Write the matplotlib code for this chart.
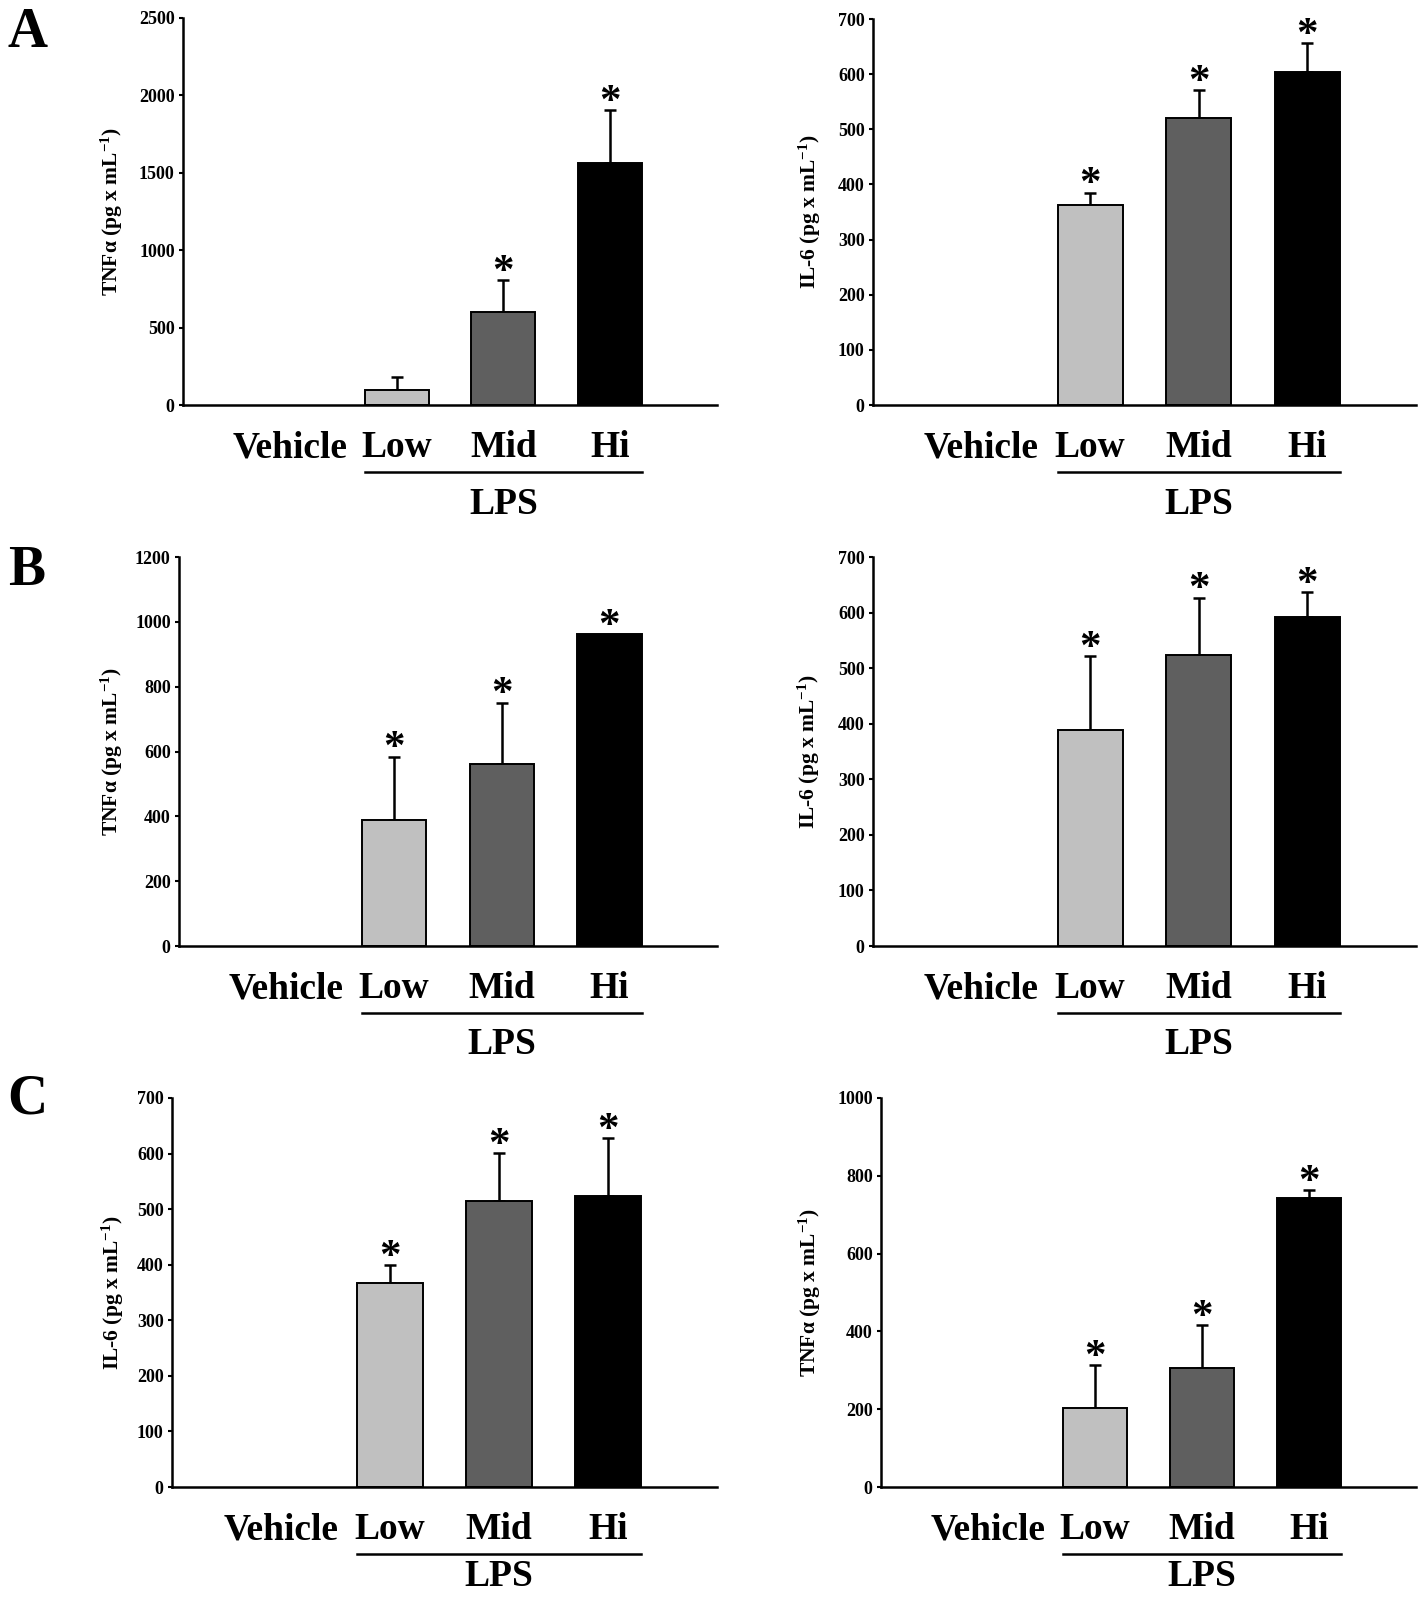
import numpy as np
import matplotlib.pyplot as plt

plt.rcParams['font.family'] = ['Liberation Serif', 'DejaVu Serif']
plt.rcParams['font.weight'] = 'bold'
plt.rcParams['mathtext.fontset'] = 'custom'
plt.rcParams['mathtext.rm'] = 'Liberation Serif:bold'
plt.rcParams['mathtext.bf'] = 'Liberation Serif:bold'
plt.rcParams['mathtext.default'] = 'rm'

groups = ['Vehicle', 'Low', 'Mid', 'Hi']
bar_colors = ['white', '#c0c0c0', '#5f5f5f', '#000000']

tnf_label = r'TNF$\alpha$ (pg x mL$^{-1}$)'
il6_label = r'IL-6 (pg x mL$^{-1}$)'

# panel A
a_tnf_mean = [0, 100, 600, 1565]
a_tnf_err = [0, 78, 205, 342]
a_tnf_star = [False, False, True, True]
a_il6_mean = [0, 362, 520, 603]
a_il6_err = [0, 23, 51, 53]
a_il6_star = [False, True, True, True]

# panel B
b_tnf_mean = [0, 390, 560, 961]
b_tnf_err = [0, 194, 191, 0]
b_tnf_star = [False, True, True, True]
b_il6_mean = [0, 389, 524, 592]
b_il6_err = [0, 132, 103, 45]
b_il6_star = [False, True, True, True]

# panel C
c_il6_mean = [0, 367, 515, 523]
c_il6_err = [0, 32, 86, 105]
c_il6_star = [False, True, True, True]
c_tnf_mean = [0, 203, 306, 743]
c_tnf_err = [0, 110, 110, 20]
c_tnf_star = [False, True, True, True]

W, H = 1418, 1600
fig = plt.figure(figsize=(W / 100, H / 100), dpi=100)


def add_axes(x0, x1, top, bottom):
    return fig.add_axes([x0 / W, 1 - bottom / H, (x1 - x0) / W, (bottom - top) / H])


def draw_panel(ax, mean, err, star, ymax, ystep, ylabel, label_x_px, lps_off=99):
    x = np.arange(len(groups))
    ax.bar(x[1:], mean[1:], width=0.6, color=bar_colors[1:],
           edgecolor='black', linewidth=1.4, zorder=2)
    for i in range(1, len(groups)):
        if err[i] > 0:
            ax.errorbar(x[i], mean[i], yerr=[[0], [err[i]]], fmt='none',
                        ecolor='black', elinewidth=1.8, capsize=4.5,
                        capthick=1.8, zorder=1, clip_on=False)
        if star[i]:
            ax.annotate('*', xy=(x[i], mean[i] + err[i]), xytext=(0, -2),
                        textcoords='offset points', ha='center', va='baseline',
                        fontsize=31, fontweight='bold', annotation_clip=False)

    ax.set_xlim(-1, 4)
    ax.set_ylim(0, ymax)
    ax.set_yticks(np.arange(0, ymax + 1, ystep))
    ax.spines['top'].set_visible(False)
    ax.spines['right'].set_visible(False)
    ax.spines['left'].set_linewidth(1.8)
    ax.spines['bottom'].set_linewidth(1.8)
    ax.tick_params(axis='y', direction='out', length=3, width=1.5,
                   labelsize=13, pad=3)
    ax.set_xticks(x)
    ax.set_xticklabels(groups, fontsize=27, fontweight='bold')
    ax.tick_params(axis='x', length=0, pad=18)
    for t in ax.get_yticklabels():
        t.set_fontweight('bold')

    ax.set_ylabel(ylabel, fontsize=15.5, fontweight='bold')
    bb = ax.get_position()
    ax.yaxis.set_label_coords((label_x_px / W - bb.x0) / bb.width, 0.5)

    # LPS bracket
    h_px = bb.height * H
    ax.plot([0.7, 3.3], [-67 / h_px, -67 / h_px], color='black', lw=1.8,
            transform=ax.get_xaxis_transform(), clip_on=False)
    ax.text(2.0, -lps_off / h_px, 'LPS', transform=ax.get_xaxis_transform(),
            ha='center', va='center', fontsize=27, fontweight='bold')


ax = add_axes(183, 717, 18, 405)
draw_panel(ax, a_tnf_mean, a_tnf_err, a_tnf_star, 2500, 500, tnf_label, 125)
ax = add_axes(873, 1416, 19, 405)
draw_panel(ax, a_il6_mean, a_il6_err, a_il6_star, 700, 100, il6_label, 823)

ax = add_axes(179, 717, 557, 946)
draw_panel(ax, b_tnf_mean, b_tnf_err, b_tnf_star, 1200, 200, tnf_label, 125)
ax = add_axes(873, 1416, 557, 946)
draw_panel(ax, b_il6_mean, b_il6_err, b_il6_star, 700, 100, il6_label, 822)

ax = add_axes(172, 717, 1098, 1487)
draw_panel(ax, c_il6_mean, c_il6_err, c_il6_star, 700, 100, il6_label, 126, lps_off=90)
ax = add_axes(881, 1416, 1098, 1487)
draw_panel(ax, c_tnf_mean, c_tnf_err, c_tnf_star, 1000, 200, tnf_label, 823, lps_off=90)

for letter, ypx in [('A', 33), ('B', 571), ('C', 1100)]:
    fig.text(27 / W, 1 - ypx / H, letter, fontsize=40, fontweight='bold',
             ha='center', va='center')

fig.savefig('out.png', dpi=100)
